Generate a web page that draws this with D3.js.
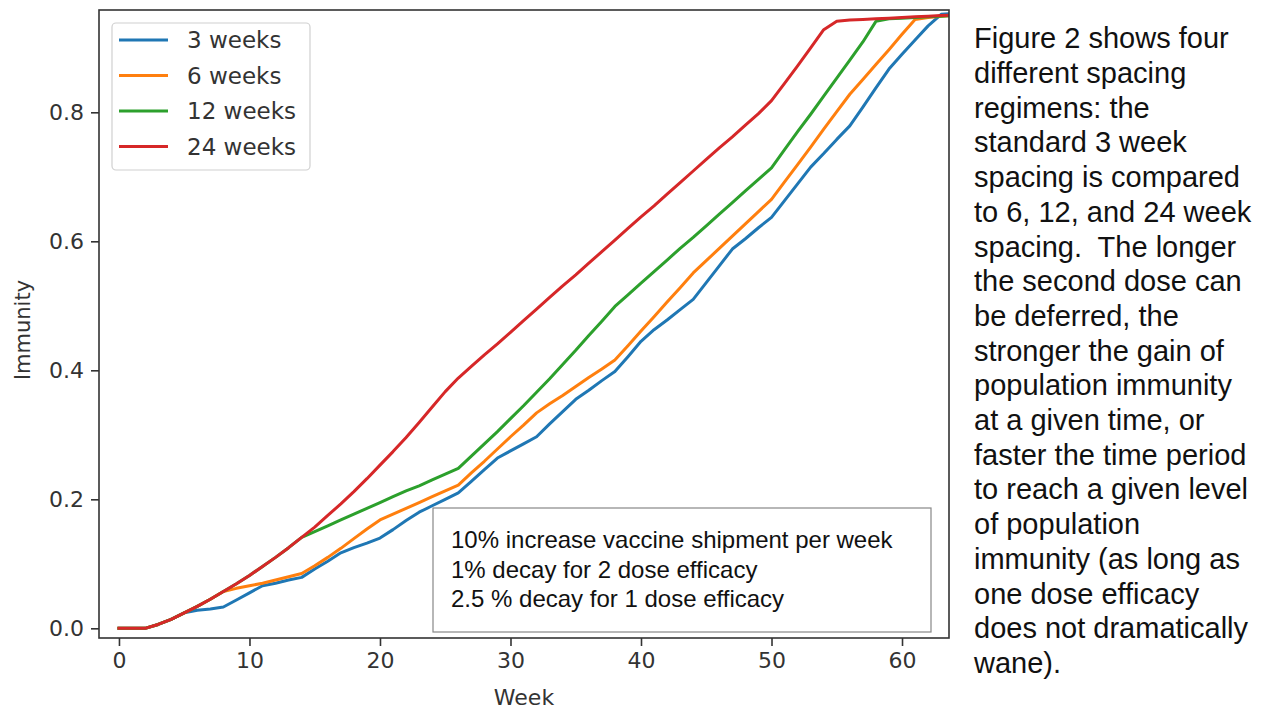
<!DOCTYPE html>
<html><head><meta charset="utf-8">
<script src="https://cdn.jsdelivr.net/npm/d3@7"></script>
<style>
html,body{margin:0;padding:0;background:#fff;}
svg{display:block;}
</style></head>
<body><svg id="chart" width="1268" height="712"></svg>
<script>
// ---- data ----
const weeks = d3.range(0, 65);
const seriesNames = ["3 weeks", "6 weeks", "12 weeks", "24 weeks"];
const seriesColors = ["#1f77b4", "#ff7f0e", "#2ca02c", "#d62728"];
const weeks3 = [0,0,0,0.006,0.014,0.024,0.028,0.030,0.033,0.044,0.055,0.066,0.070,0.075,0.079,0.092,0.104,0.117,0.125,0.132,0.140,0.153,0.167,0.180,0.190,0.200,0.210,0.228,0.246,0.264,0.275,0.286,0.297,0.317,0.336,0.355,0.369,0.384,0.398,0.421,0.445,0.463,0.478,0.494,0.510,0.536,0.562,0.588,0.604,0.621,0.637,0.663,0.689,0.715,0.736,0.758,0.779,0.808,0.838,0.867,0.890,0.912,0.934,0.952,0.953];
const weeks6 = [0,0,0,0.006,0.014,0.024,0.034,0.045,0.057,0.062,0.066,0.070,0.075,0.080,0.085,0.097,0.110,0.124,0.139,0.154,0.168,0.177,0.186,0.195,0.204,0.213,0.222,0.241,0.259,0.278,0.297,0.315,0.334,0.348,0.361,0.375,0.389,0.402,0.416,0.438,0.461,0.483,0.506,0.528,0.551,0.570,0.589,0.608,0.627,0.646,0.665,0.692,0.719,0.746,0.774,0.801,0.828,0.851,0.874,0.897,0.921,0.944,0.947,0.949,0.950];
const weeks12 = [0,0,0,0.006,0.014,0.024,0.034,0.045,0.057,0.069,0.082,0.096,0.110,0.125,0.141,0.150,0.159,0.168,0.177,0.186,0.195,0.204,0.213,0.221,0.230,0.239,0.248,0.267,0.286,0.305,0.325,0.345,0.366,0.387,0.409,0.431,0.454,0.476,0.499,0.517,0.535,0.553,0.571,0.589,0.606,0.624,0.642,0.660,0.678,0.696,0.714,0.742,0.770,0.797,0.825,0.853,0.881,0.909,0.941,0.945,0.946,0.947,0.948,0.949,0.950];
const weeks24 = [0,0,0,0.006,0.014,0.024,0.034,0.045,0.057,0.069,0.082,0.096,0.110,0.125,0.141,0.157,0.175,0.193,0.212,0.232,0.253,0.274,0.296,0.319,0.343,0.367,0.388,0.406,0.424,0.441,0.459,0.477,0.495,0.513,0.531,0.548,0.566,0.584,0.602,0.620,0.638,0.655,0.673,0.691,0.709,0.727,0.745,0.762,0.780,0.798,0.818,0.845,0.872,0.900,0.928,0.941,0.943,0.944,0.945,0.946,0.947,0.948,0.949,0.950,0.951];
const seriesValues = [weeks3, weeks6, weeks12, weeks24];
const xTicks = [0, 10, 20, 30, 40, 50, 60];
const yTicks = [0.0, 0.2, 0.4, 0.6, 0.8];
const noteLines = ["10% increase vaccine shipment per week", "1% decay for 2 dose efficacy", "2.5 % decay for 1 dose efficacy"];
const sideText = ["Figure 2 shows four","different spacing","regimens: the","standard 3 week","spacing is compared","to 6, 12, and 24 week","spacing.  The longer","the second dose can","be deferred, the","stronger the gain of","population immunity","at a given time, or","faster the time period","to reach a given level","of population","immunity (as long as","one dose efficacy","does not dramatically","wane)."];

// ---- layout ----
const L = 99, R = 949, T = 10, B = 638;
const svg = d3.select("#chart");
const x = d3.scaleLinear().domain([-1.53, 63.6]).range([L, R]);
const y = d3.scaleLinear().domain([-0.015, 0.9586]).range([B, T]);
const tickFont = "'DejaVu Sans', sans-serif";
const textFont = "'Liberation Sans', Arial, sans-serif";

svg.append("defs").append("clipPath").attr("id","clip")
  .append("rect").attr("x", L).attr("y", T).attr("width", R-L).attr("height", B-T);

// lines
const line = d3.line().x((d,i)=>x(weeks[i])).y(d=>y(d));
const g = svg.append("g").attr("clip-path","url(#clip)");
seriesValues.forEach((vals, k) => {
  g.append("path").datum(vals).attr("d", line)
    .attr("fill","none").attr("stroke", seriesColors[k])
    .attr("stroke-width", 3).attr("stroke-linejoin","round").attr("stroke-linecap","square");
});

// axes
const xAxis = d3.axisBottom(x).tickValues(xTicks).tickFormat(d3.format("d")).tickSizeInner(8).tickSizeOuter(0).tickPadding(6);
const yAxis = d3.axisLeft(y).tickValues(yTicks).tickFormat(d3.format(".1f")).tickSizeInner(8).tickSizeOuter(0).tickPadding(7);
const gx = svg.append("g").attr("transform", `translate(0,${B})`).call(xAxis);
const gy = svg.append("g").attr("transform", `translate(${L},0)`).call(yAxis);
[gx, gy].forEach(a => {
  a.select(".domain").remove();
  a.selectAll(".tick line").attr("stroke","#333").attr("stroke-width",1.6);
  a.selectAll(".tick text").attr("fill","#333").style("font-family", tickFont).style("font-size","22px");
});

// frame
svg.append("rect").attr("x", L).attr("y", T).attr("width", R-L).attr("height", B-T)
  .attr("fill","none").attr("stroke","#333").attr("stroke-width",1.6);

// axis labels
svg.append("text").attr("x", (L+R)/2).attr("y", 705).attr("text-anchor","middle")
  .attr("fill","#333").style("font-family", tickFont).style("font-size","22px").text("Week");
svg.append("text").attr("transform", `translate(30,330) rotate(-90)`).attr("text-anchor","middle")
  .attr("fill","#333").style("font-family", tickFont).style("font-size","21px").text("Immunity");

// legend
const lg = svg.append("g");
lg.append("rect").attr("x",112).attr("y",23).attr("width",198).attr("height",147).attr("rx",4)
  .attr("fill","#fff").attr("stroke","#d0d0d0").attr("stroke-width",1.2);
seriesNames.forEach((name, k) => {
  const yy = 40 + k*35.5;
  lg.append("line").attr("x1",119).attr("x2",168).attr("y1",yy).attr("y2",yy)
    .attr("stroke", seriesColors[k]).attr("stroke-width",3);
  lg.append("text").attr("x",187).attr("y",yy+8).attr("fill","#333")
    .style("font-family", tickFont).style("font-size","23px").text(name);
});

// note box
const ng = svg.append("g");
ng.append("rect").attr("x",433).attr("y",508).attr("width",498).attr("height",124)
  .attr("fill","#fff").attr("stroke","#888").attr("stroke-width",1.2);
noteLines.forEach((t,i) => {
  ng.append("text").attr("x",451).attr("y",548 + i*29.5).attr("fill","#111")
    .style("font-family", textFont).style("font-size","24px").text(t);
});

// side text
const sg = svg.append("g");
sideText.forEach((t,i) => {
  sg.append("text").attr("x",974).attr("y",48.3 + i*34.7).attr("fill","#111")
    .style("white-space","pre")
    .style("font-family", textFont).style("font-size","29px").text(t);
});
</script></body></html>
